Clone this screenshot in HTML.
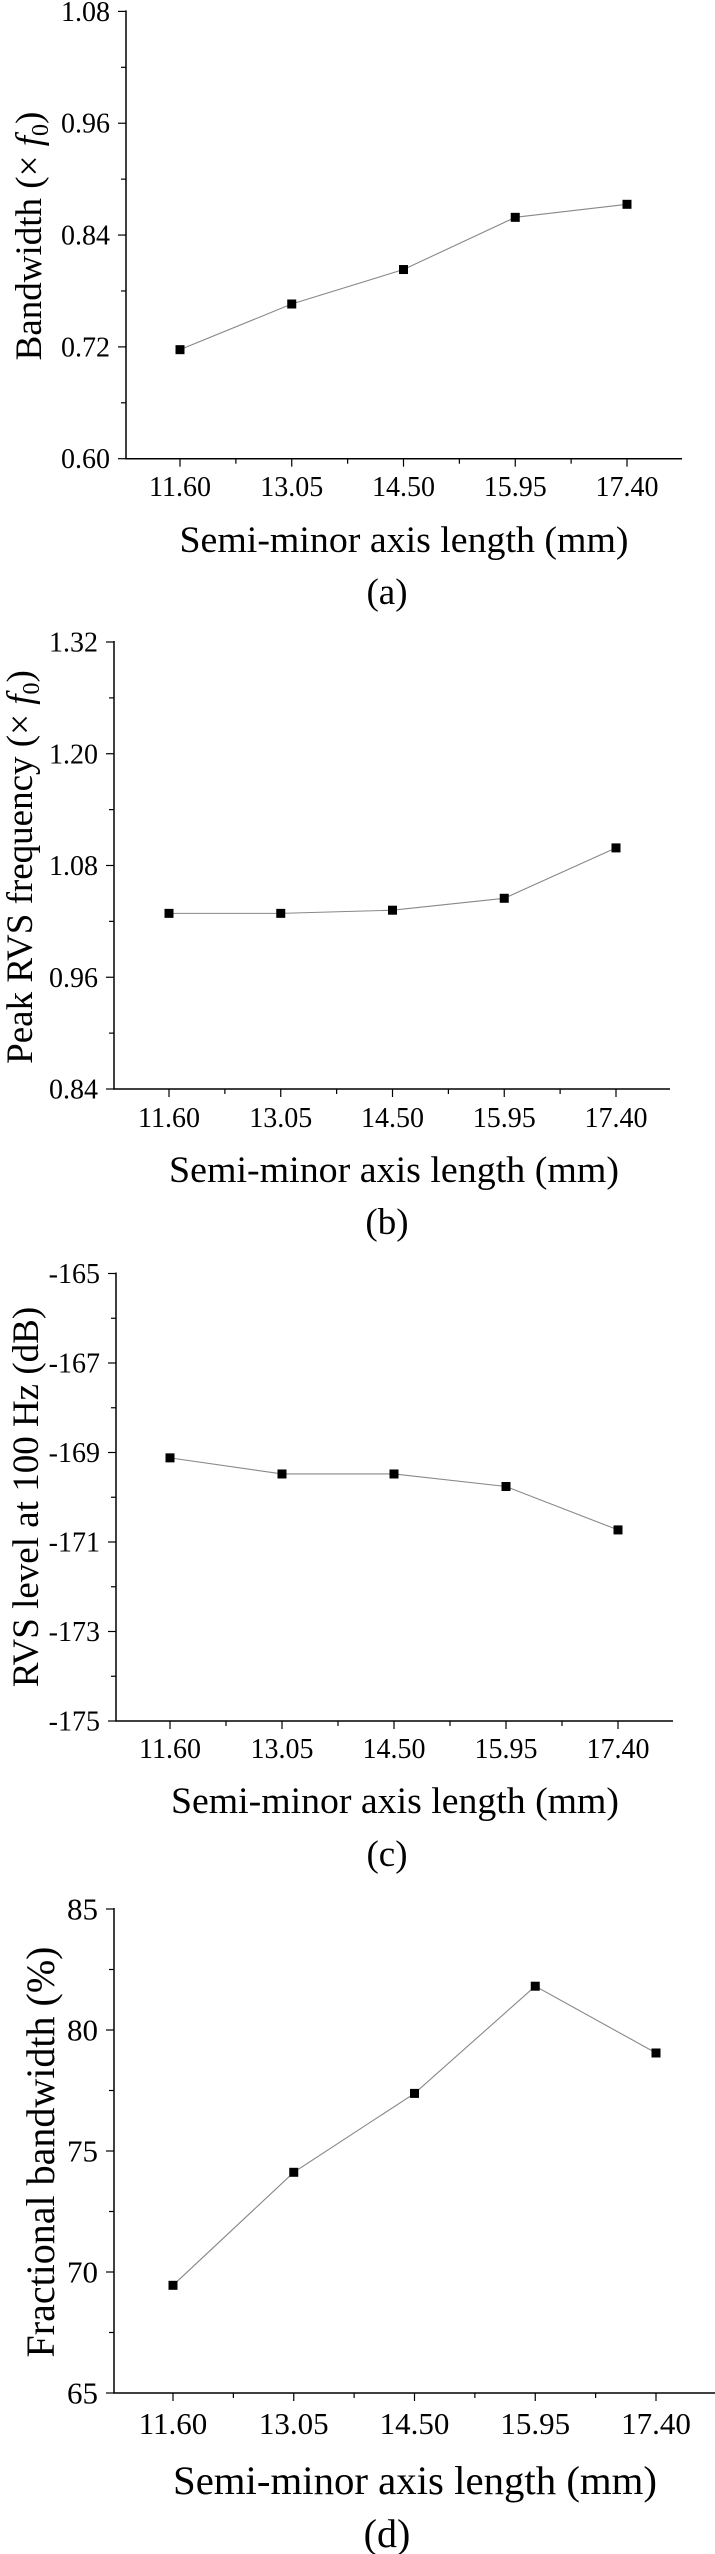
<!DOCTYPE html>
<html><head><meta charset="utf-8">
<style>
html,body{margin:0;padding:0;background:#fff;}
svg{display:block;font-family:"Liberation Serif","DejaVu Serif",serif;}
</style></head>
<body>
<svg id="fig" width="715" height="2554" viewBox="0 0 715 2554" xmlns="http://www.w3.org/2000/svg"></svg>
<script>
const categories = ["11.60","13.05","14.50","15.95","17.40"];
const bandwidthValues = [0.717, 0.766, 0.803, 0.859, 0.873];
const peakFreqValues = [1.0286, 1.0286, 1.032, 1.0448, 1.0989];
const rvsLevelValues = [-169.12, -169.48, -169.48, -169.76, -170.73];
const fracBandwidthValues = [69.45, 74.12, 77.38, 81.81, 79.05];
const ticksA = ["0.60","0.72","0.84","0.96","1.08"];
const ticksB = ["0.84","0.96","1.08","1.20","1.32"];
const ticksC = ["-175","-173","-171","-169","-167","-165"];
const ticksD = ["65","70","75","80","85"];

const NS="http://www.w3.org/2000/svg";
const svg=document.getElementById('fig');
function mk(tag,attrs,parent){const e=document.createElementNS(NS,tag);for(const k in attrs)e.setAttribute(k,attrs[k]);(parent||svg).appendChild(e);return e;}

const sub='<tspan font-style="italic">f</tspan><tspan font-size="24" dy="7">0</tspan><tspan dy="-7">)</tspan>';
const panels=[
 {id:'a',vals:bandwidthValues,ticks:ticksA,ax:126,x0:180,x1:627,xe:682,yt:11.4,yb:458.7,tickBase:496,titleBase:552,capBase:604,ytx:28,ytc:236,ytw:251,fs:28,tfs:37,xtw:449,xtc:404,cap:387,ytitle:'Bandwidth (× '+sub},
 {id:'b',vals:peakFreqValues,ticks:ticksB,ax:114,x0:169,x1:616,xe:670,yt:642,yb:1089,tickBase:1127,titleBase:1182,capBase:1234,ytx:19,ytc:867,ytw:404,fs:28,tfs:37,xtw:450,xtc:394,cap:387,ytitle:'Peak RVS frequency (× '+sub},
 {id:'c',vals:rvsLevelValues,ticks:ticksC,ax:116,x0:170,x1:618,xe:673,yt:1273.5,yb:1721,tickBase:1758,titleBase:1813,capBase:1866,ytx:25,ytc:1497,ytw:396,fs:28,tfs:37,xtw:448,xtc:395,cap:387,ytitle:'RVS level at 100 Hz (dB)'},
 {id:'d',vals:fracBandwidthValues,ticks:ticksD,ax:114,x0:173,x1:656,xe:715,yt:1909,yb:2393,tickBase:2434,titleBase:2494,capBase:2547,ytx:40,ytc:2152,ytw:421,fs:31,tfs:40,xtw:484,xtc:415,cap:387,ytitle:'Fractional bandwidth (%)'}
];

panels.forEach(p=>{
  const g=mk('g',{});
  
  
  const tv=p.ticks.map(Number);
  const vmin=tv[0],vmax=tv[tv.length-1];
  const y=v=>p.yb-(v-vmin)/(vmax-vmin)*(p.yb-p.yt);
  const n=categories.length;
  const x=i=>p.x0+i*(p.x1-p.x0)/(n-1);
  const ya=mk('line',{x1:p.ax,y1:p.yt-1,x2:p.ax,y2:p.yb,stroke:'#000','stroke-width':1.5},g);
  
  
  const xa=mk('line',{x1:p.ax-0.75,y1:p.yb,x2:p.xe,y2:p.yb,stroke:'#000','stroke-width':1.5},g);
  
  
  p.ticks.forEach((t,i)=>{
    const yy=y(tv[i]);
    mk('line',{x1:p.ax-8,y1:yy,x2:p.ax,y2:yy,stroke:'#000','stroke-width':1.2},g);
    if(i<p.ticks.length-1){const ym=y((tv[i]+tv[i+1])/2);mk('line',{x1:p.ax-5,y1:ym,x2:p.ax,y2:ym,stroke:'#000','stroke-width':1.2},g);}
    const tx=mk('text',{x:p.ax-16,y:yy+p.fs*0.34,'text-anchor':'end','font-size':p.fs,fill:'#000'},g);
    tx.textContent=t;
    
    
  });
  categories.forEach((c,i)=>{
    const xx=x(i);
    mk('line',{x1:xx,y1:p.yb,x2:xx,y2:p.yb+8,stroke:'#000','stroke-width':1.2},g);
    const xm=xx+(p.x1-p.x0)/(n-1)/2;
    if(xm<p.xe)mk('line',{x1:xm,y1:p.yb,x2:xm,y2:p.yb+5,stroke:'#000','stroke-width':1.2},g);
    const tx=mk('text',{x:xx,y:p.tickBase,'text-anchor':'middle','font-size':p.fs,fill:'#000'},g);
    tx.textContent=c;
    
    
  });
  const pts=p.vals.map((v,i)=>x(i)+','+y(v)).join(' ');
  const pl=mk('polyline',{points:pts,fill:'none',stroke:'#888','stroke-width':1.1},g);
  
  
  p.vals.forEach((v,i)=>{
    const r=mk('rect',{x:x(i)-4.5,y:y(v)-4.5,width:9,height:9,fill:'#000'},g);
    
    
  });
  const xt=mk('text',{x:p.xtc,y:p.titleBase,'text-anchor':'middle','font-size':p.tfs,fill:'#000',textLength:p.xtw,lengthAdjust:'spacingAndGlyphs'},g);
  xt.textContent='Semi-minor axis length (mm)';
  
  
  const yt=mk('text',{x:0,y:0,'text-anchor':'middle','font-size':p.tfs,fill:'#000',transform:'translate('+(p.ytx+p.tfs*0.35)+','+p.ytc+') rotate(-90)'},g);
  yt.innerHTML=p.ytitle;
  
  
  const cap=mk('text',{x:p.cap,y:p.capBase,'text-anchor':'middle','font-size':p.tfs,fill:'#000'},g);
  cap.textContent='('+p.id+')';
  
  
});
</script>
</body></html>
